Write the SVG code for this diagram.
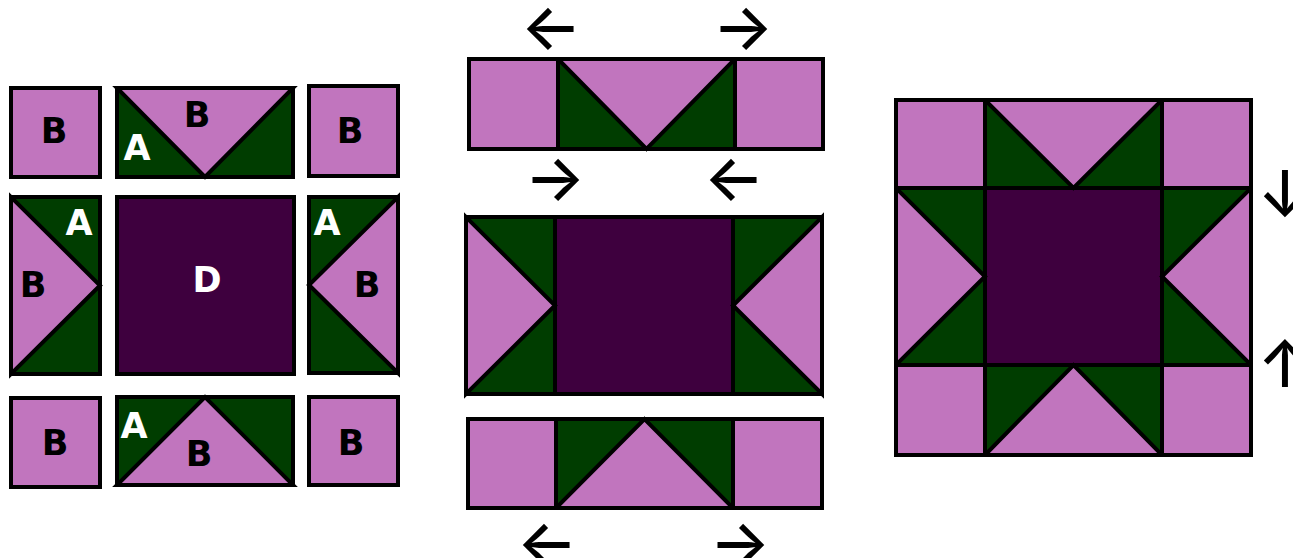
<svg xmlns="http://www.w3.org/2000/svg" width="1293" height="558" viewBox="0 0 1293 558">
<style>
.p{fill:#c175be;stroke:#000;stroke-width:4;stroke-linejoin:miter}
.g{fill:#003d00;stroke:#000;stroke-width:4}
.d{fill:#3e003e;stroke:#000;stroke-width:4}
.o{fill:none;stroke:#000;stroke-width:4}
.l{stroke:#000;stroke-width:4;fill:none}
.t{font-family:"DejaVu Sans",Verdana,sans-serif;font-weight:bold;font-size:35px;text-anchor:middle}
.k{fill:#000}
.w{fill:#fff}
.a{font-family:Inter,"DejaVu Sans",sans-serif;font-weight:500;font-size:64px;text-anchor:middle;fill:#000}
</style>
<rect width="1293" height="558" fill="#fff"/>

<!-- Left panel: separate pieces -->
<g id="piece-tl">
<rect class="p" x="11" y="88" width="89" height="89"/>
<text class="t k" x="54" y="143">B</text>
</g>
<g id="piece-tm">
<rect class="g" x="117" y="88" width="176" height="89"/>
<polygon class="p" points="117,88 293,88 205,177"/>
<rect class="o" x="117" y="88" width="176" height="89"/>
<text class="t k" x="197" y="127">B</text>
<text class="t w" x="137" y="160">A</text>
</g>
<g id="piece-tr">
<rect class="p" x="309" y="86" width="89" height="90"/>
<text class="t k" x="350" y="143">B</text>
</g>
<g id="piece-ml">
<rect class="g" x="11" y="197" width="89" height="177"/>
<polygon class="p" points="11,197 11,374 100,285.5"/>
<rect class="o" x="11" y="197" width="89" height="177"/>
<text class="t w" x="79" y="235">A</text>
<text class="t k" x="33" y="297">B</text>
</g>
<g id="piece-d">
<rect class="d" x="117" y="197" width="177" height="177"/>
<text class="t w" x="207" y="292">D</text>
</g>
<g id="piece-mr">
<rect class="g" x="309" y="197" width="89" height="176"/>
<polygon class="p" points="398,197 398,373 309,285"/>
<rect class="o" x="309" y="197" width="89" height="176"/>
<text class="t w" x="327" y="235">A</text>
<text class="t k" x="367" y="297">B</text>
</g>
<g id="piece-bl">
<rect class="p" x="11" y="398" width="89" height="89"/>
<text class="t k" x="55" y="455">B</text>
</g>
<g id="piece-bm">
<rect class="g" x="117" y="397" width="176" height="88"/>
<polygon class="p" points="117,485 293,485 205,397"/>
<rect class="o" x="117" y="397" width="176" height="88"/>
<text class="t w" x="134" y="438">A</text>
<text class="t k" x="199" y="466">B</text>
</g>
<g id="piece-br">
<rect class="p" x="309" y="397" width="89" height="88"/>
<text class="t k" x="351" y="455">B</text>
</g>

<!-- Middle panel: rows -->
<g id="row-top">
<rect class="p" x="469" y="59" width="354" height="90"/>
<rect class="g" x="558" y="59" width="177" height="90"/>
<polygon class="p" points="558,59 735,59 646.5,149"/>
<rect class="o" x="469" y="59" width="354" height="90"/>
</g>
<g id="row-middle">
<rect class="g" x="466" y="217" width="356" height="177"/>
<rect class="d" x="555" y="217" width="178" height="177"/>
<polygon class="p" points="466,217 466,394 555,305.5"/>
<polygon class="p" points="822,217 822,394 733,305.5"/>
<rect class="o" x="466" y="217" width="356" height="177"/>
</g>
<g id="row-bottom">
<rect class="p" x="468" y="419" width="354" height="89"/>
<rect class="g" x="556" y="419" width="177" height="89"/>
<polygon class="p" points="556,508 733,508 644.5,419"/>
<rect class="o" x="468" y="419" width="354" height="89"/>
</g>

<!-- Right panel: finished block -->
<g id="block">
<rect class="g" x="896" y="100" width="355" height="355"/>
<rect class="p" x="896" y="100" width="89" height="88"/>
<rect class="p" x="1162" y="100" width="89" height="88"/>
<rect class="p" x="896" y="365" width="89" height="90"/>
<rect class="p" x="1162" y="365" width="89" height="90"/>
<rect class="d" x="985" y="188" width="177" height="177"/>
<polygon class="p" points="985,100 1162,100 1073.5,188"/>
<polygon class="p" points="896,188 896,365 985,276.5"/>
<polygon class="p" points="1251,188 1251,365 1162,276.5"/>
<polygon class="p" points="985,455 1162,455 1073.5,365"/>
<line class="l" x1="985" y1="100" x2="985" y2="455"/>
<line class="l" x1="1162" y1="100" x2="1162" y2="455"/>
<line class="l" x1="896" y1="188" x2="1251" y2="188"/>
<line class="l" x1="896" y1="365" x2="1251" y2="365"/>
<rect class="o" x="896" y="100" width="355" height="355"/>
</g>

<!-- Pressing arrows -->
<g id="arrows">
<text class="a" x="551" y="49">←</text>
<text class="a" x="743" y="49">→</text>
<text class="a" x="555" y="200">→</text>
<text class="a" x="734" y="200">←</text>
<text class="a" x="547" y="565">←</text>
<text class="a" x="740" y="565">→</text>
<text class="a" x="1285" y="217">↓</text>
<text class="a" x="1285" y="387">↑</text>
</g>
</svg>
